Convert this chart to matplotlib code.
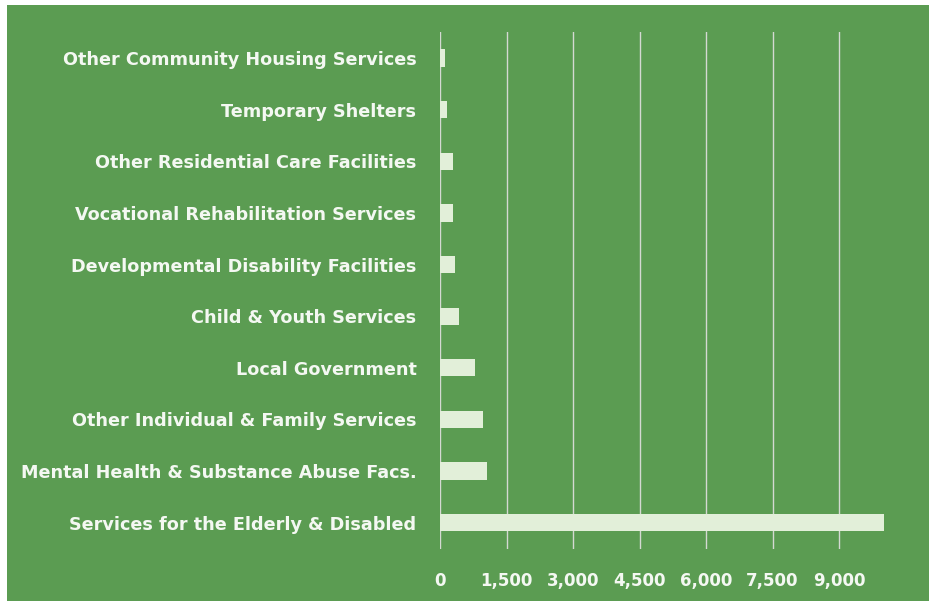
import numpy as np
import matplotlib
matplotlib.use('Agg')
import matplotlib.pyplot as plt
from matplotlib.patches import Rectangle
from matplotlib.ticker import FuncFormatter

# categories listed bottom to top (as drawn)
categories = [
    'Services for the Elderly & Disabled',
    'Mental Health & Substance Abuse Facs.',
    'Other Individual & Family Services',
    'Local Government',
    'Child & Youth Services',
    'Developmental Disability Facilities',
    'Vocational Rehabilitation Services',
    'Other Residential Care Facilities',
    'Temporary Shelters',
    'Other Community Housing Services',
]
values = [10010, 1070, 980, 800, 430, 340, 295, 290, 160, 110]
xticks = [0, 1500, 3000, 4500, 6000, 7500, 9000]

green = '#5B9C52'
bar_col = '#E2EFD9'
grid_col = '#D4D9D2'

plt.rcParams['font.family'] = ['DejaVu Sans']

fig = plt.figure(figsize=(9.32, 6.03), dpi=100)
fig.patch.set_facecolor('white')
fig.patches.append(Rectangle((7/932, 2/603), 922/932, 596/603,
                             transform=fig.transFigure, facecolor=green,
                             edgecolor='none', zorder=-5))

ax = fig.add_axes([440/932, 1 - 548.5/603, 465.5/932, 516.3/603])
ax.set_zorder(2)
ax.set_facecolor('none')

y = np.arange(len(categories))
ax.barh(y, values, height=0.335, color=bar_col, zorder=3)

ax.set_xlim(0, 10500)
ax.set_ylim(-0.5, len(categories) - 0.5)
ax.set_xticks(xticks)
ax.xaxis.set_major_formatter(FuncFormatter(lambda v, p: f'{int(v):,}'))
ax.set_yticks(y)
ax.set_yticklabels(categories)

for v in xticks:
    ax.axvline(v, color=grid_col, lw=1.0, zorder=2)

for s in ax.spines.values():
    s.set_visible(False)
ax.tick_params(axis='both', length=0, colors='white')
ax.tick_params(axis='y', pad=17, labelsize=12.7)
ax.tick_params(axis='x', pad=17, labelsize=12)
for lab in ax.get_xticklabels() + ax.get_yticklabels():
    lab.set_fontweight('bold')
    lab.set_color('#F4F8F2')

fig.savefig('out.png', dpi=100)
